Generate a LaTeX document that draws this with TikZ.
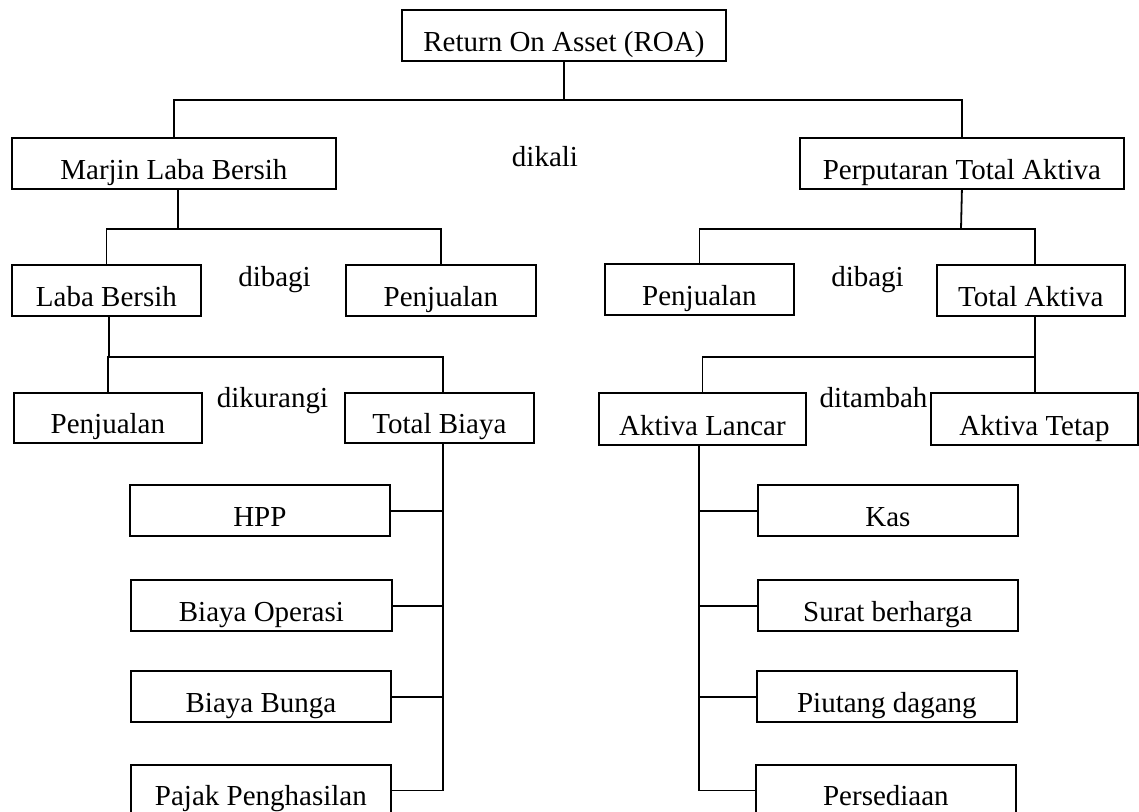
\documentclass[tikz,border=0pt]{standalone}
\usepackage{fontspec}
\setmainfont{Liberation Serif}
\begin{document}
\begin{tikzpicture}[x=0.5pt,y=-0.5pt,
  box/.style={draw, line width=0.9pt, inner xsep=0pt, inner ysep=0pt,
    text height=20.5pt, text depth=5pt, font=\fontsize{14.5pt}{17pt}\selectfont},
  lbl/.style={inner sep=0pt, anchor=base, font=\fontsize{14.5pt}{17pt}\selectfont},
  conn/.style={line width=0.9pt}]
\useasboundingbox (0,0) rectangle (1139,812);
\clip (0,0) rectangle (1139,812);

% boxes
\node[box, minimum width=162pt, anchor=south west] (roa) at (401,62) {Return On Asset (ROA)};
\node[box, minimum width=162pt, anchor=south west] (mlb) at (11,190) {Marjin Laba Bersih};
\node[box, minimum width=162pt, anchor=south west] (pta) at (799,190) {Perputaran Total Aktiva};
\node[box, minimum width=94.5pt, anchor=south west] (lb) at (11,317) {Laba Bersih};
\node[box, minimum width=95pt, anchor=south west] (pj1) at (345,317) {Penjualan};
\node[box, minimum width=94.5pt, anchor=south west] (pj2) at (604,316) {Penjualan};
\node[box, minimum width=94pt, anchor=south west] (ta) at (936,317) {Total Aktiva};
\node[box, minimum width=94pt, text height=20pt, anchor=south west] (pj3) at (13,444) {Penjualan};
\node[box, minimum width=94.5pt, text height=20pt, anchor=south west] (tb) at (344,444) {Total Biaya};
\node[box, minimum width=103.5pt, text height=21pt, anchor=south west] (al) at (598,446) {Aktiva Lancar};
\node[box, minimum width=103.5pt, text height=21pt, anchor=south west] (at) at (930,446) {Aktiva Tetap};
\node[box, minimum width=130pt, anchor=south west] (hpp) at (129,537) {HPP};
\node[box, minimum width=130.5pt, anchor=south west] (bo) at (130,632) {Biaya Operasi};
\node[box, minimum width=130pt, anchor=south west] (bb) at (130,723) {Biaya Bunga};
\node[box, minimum width=130pt, anchor=north west] (pp) at (130,764) {Pajak Penghasilan};
\node[box, minimum width=130pt, anchor=south west] (kas) at (757,537) {Kas};
\node[box, minimum width=130pt, anchor=south west] (sb) at (757,632) {Surat berharga};
\node[box, minimum width=130pt, anchor=south west] (pd) at (756,723) {Piutang dagang};
\node[box, minimum width=130pt, anchor=north west] (ps) at (755,764) {Persediaan};

% operation labels
\node[lbl] (dikali) at (545,167) {dikali};
\node[lbl] (dibagiL) at (274.5,287) {dibagi};
\node[lbl] (dibagiR) at (867.5,287) {dibagi};
\node[lbl] (dikurangi) at (272.5,408) {dikurangi};
\node[lbl] (ditambah) at (873.5,408) {ditambah};

% junction coordinates
\coordinate (j1) at (564,100);
\coordinate (j2) at (178,229);
\coordinate (j3) at (109,357);
\coordinate (tbx) at (443,0);
\coordinate (j4) at (961,229);
\coordinate (tax) at (1035,0);
\coordinate (j5) at (1035,357);
\coordinate (alx) at (699,0);

% connectors - top
\draw[conn] (roa.south) -- (j1);
\draw[conn] (mlb.north) |- (j1) -| (pta.north);

% left branch
\draw[conn] (mlb.south -| j2) -- (j2);
\draw[conn] (lb.north) |- (j2) -| (pj1.north);
\draw[conn] (lb.south -| j3) -- (j3);
\draw[conn] (pj3.north) -- (pj3.north |- j3) -- (j3 -| tbx) -- (tb.north -| tbx);
\draw[conn] (tb.south -| tbx) -- (pp.east -| tbx) -- (pp.east);
\draw[conn] (hpp.east) -- (hpp.east -| tbx);
\draw[conn] (bo.east) -- (bo.east -| tbx);
\draw[conn] (bb.east) -- (bb.east -| tbx);

% right branch
\draw[conn] (pta.south) -- (j4);
\draw[conn] (pj2.north) -- (pj2.north |- j4) -- (j4 -| tax) -- (ta.north -| tax);
\draw[conn] (ta.south -| tax) -- (at.north -| tax);
\draw[conn] (al.north) -- (al.north |- j5) -- (j5);
\draw[conn] (al.south -| alx) -- (ps.west -| alx) -- (ps.west);
\draw[conn] (kas.west -| alx) -- (kas.west);
\draw[conn] (sb.west -| alx) -- (sb.west);
\draw[conn] (pd.west -| alx) -- (pd.west);
\end{tikzpicture}
\end{document}
